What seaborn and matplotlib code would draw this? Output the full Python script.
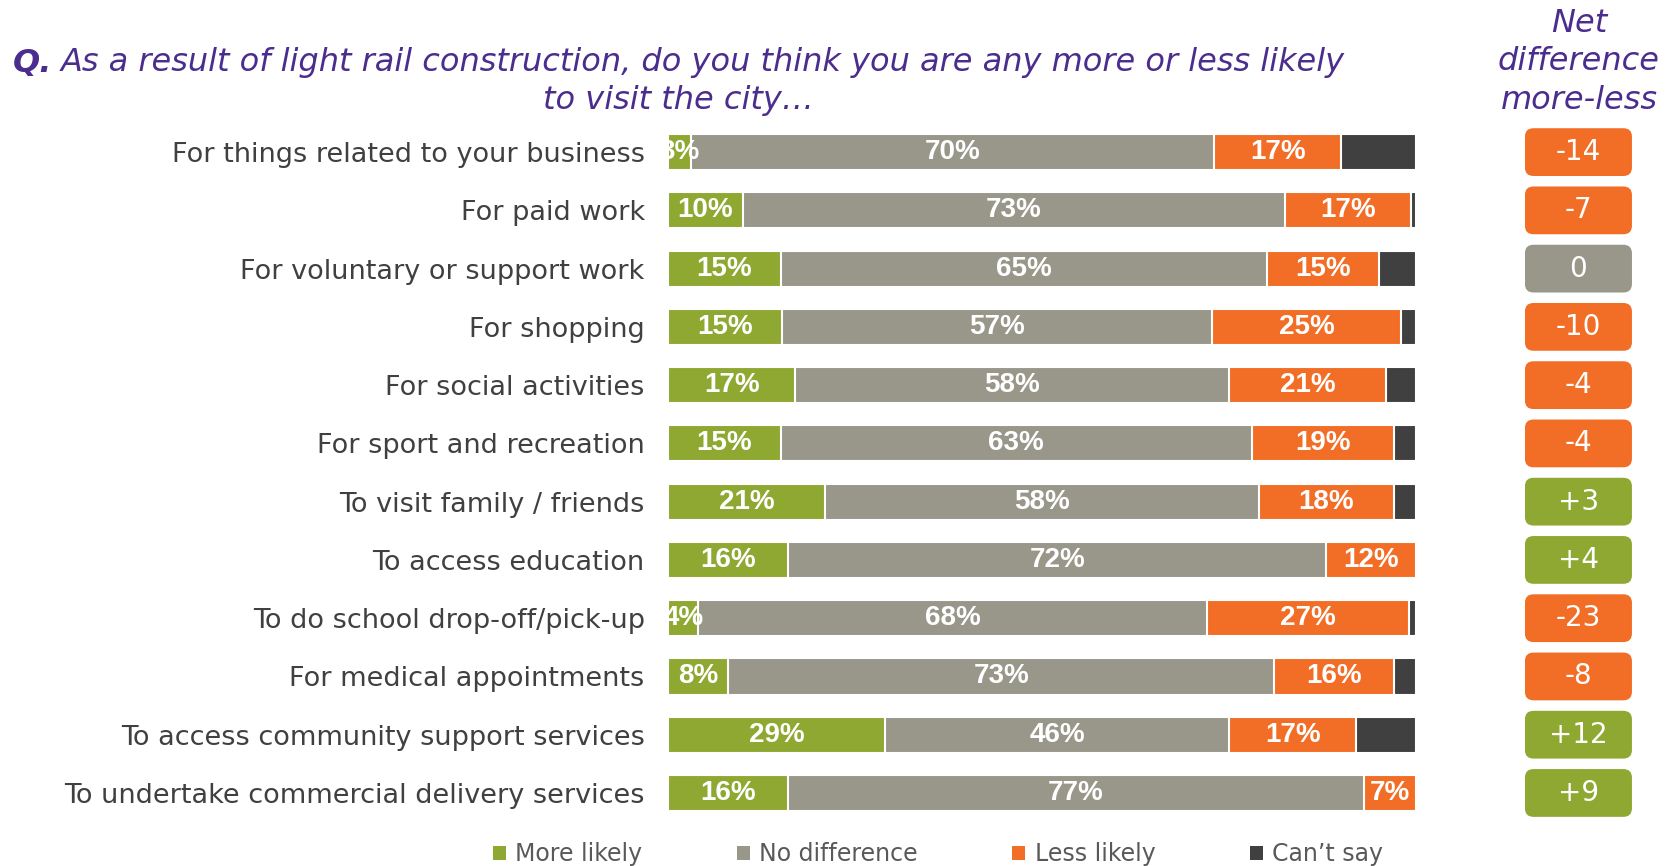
import pandas as pd
import matplotlib.pyplot as plt
import seaborn as sns
from matplotlib.patches import FancyBboxPatch, Patch

# Survey data: likelihood to visit the city during light rail construction
categories = [
    "For things related to your business",
    "For paid work",
    "For voluntary or support work",
    "For shopping",
    "For social activities",
    "For sport and recreation",
    "To visit family / friends",
    "To access education",
    "To do school drop-off/pick-up",
    "For medical appointments",
    "To access community support services",
    "To undertake commercial delivery services",
]
more_likely = [3, 10, 15, 15, 17, 15, 21, 16, 4, 8, 29, 16]
no_difference = [70, 73, 65, 57, 58, 63, 58, 72, 68, 73, 46, 77]
less_likely = [17, 17, 15, 25, 21, 19, 18, 12, 27, 16, 17, 7]
cant_say = [10, 0.7, 5, 2, 4, 3, 3, 0, 1, 3, 8, 0]
net_diff = [-14, -7, 0, -10, -4, -4, 3, 4, -23, -8, 12, 9]

series = ["More likely", "No difference", "Less likely", "Can\u2019t say"]
colors = ["#8FA832", "#99978A", "#F26E26", "#404040"]
purple = "#4B2D8E"
text_grey = "#404040"

sns.set_style("white")
plt.rcParams["font.family"] = ["DejaVu Sans"]

df = pd.DataFrame({
    "category": categories,
    "More likely": more_likely,
    "No difference": no_difference,
    "Less likely": less_likely,
    "Can\u2019t say": cant_say,
})
total = df[series].sum(axis=1)
shares = df[series].div(total, axis=0) * 100
cum = shares.cumsum(axis=1)
cum["category"] = categories

fig = plt.figure(figsize=(16.75, 8.66), dpi=100)
ax = fig.add_axes([0.399, 0.0507, 0.4465, 0.8073])
ax2 = fig.add_axes([0.9104, 0.0507, 0.0639, 0.8073])

# stacked bars: draw cumulative totals back to front
for name, col in zip(series[::-1], colors[::-1]):
    sns.barplot(data=cum, x=name, y="category", color=col, width=0.62,
                saturation=1, edgecolor="white", linewidth=1.5, orient="h", ax=ax)

# segment labels
for i in range(len(categories)):
    start = 0
    for name in series[:3]:
        w = shares.loc[i, name]
        ax.text(start + w / 2, i, f"{df.loc[i, name]:g}%", ha="center", va="center",
                color="white", fontsize=20, fontweight="bold",
                family=["Liberation Sans Narrow", "Liberation Sans"], clip_on=True)
        start += w

ax.set_xlim(0, 100)
ax.set_ylim(len(categories) - 0.5, -0.5)
ax.set_xlabel("")
ax.set_ylabel("")
ax.set_xticks([])
ax.tick_params(axis="y", length=0, pad=17, labelsize=19.5, labelcolor=text_grey)
sns.despine(ax=ax, left=True, bottom=True)

# net difference boxes
sign = ["neg" if v < 0 else ("pos" if v > 0 else "zero") for v in net_diff]
net_df = pd.DataFrame({"category": categories, "width": [1] * len(categories), "sign": sign})
sns.barplot(data=net_df, x="width", y="category", hue="sign",
            palette={"neg": colors[2], "zero": colors[1], "pos": colors[0]},
            width=0.82, saturation=1, dodge=False, legend=False, orient="h", ax=ax2)
for p in list(ax2.patches):
    x0, y0, w, h = p.get_x(), p.get_y(), p.get_width(), p.get_height()
    fc = p.get_facecolor()
    p.remove()
    if w == 0:
        continue
    ax2.add_patch(FancyBboxPatch((x0, y0), w, h, boxstyle="round,pad=0,rounding_size=0.08",
                                 mutation_aspect=1.84, facecolor=fc, edgecolor="none"))
for i, v in enumerate(net_diff):
    ax2.text(0.5, i, f"{v:+d}" if v != 0 else "0", ha="center", va="center",
             color="white", fontsize=20)
ax2.set_xlim(0, 1)
ax2.set_ylim(len(categories) - 0.5, -0.5)
ax2.axis("off")

# titles
q = fig.text(13 / 1675, 1 - 63 / 866, "Q.", ha="left", va="center", color=purple,
             fontsize=23, fontstyle="italic", fontweight="bold")
fig.canvas.draw()
bb = q.get_window_extent()
fig.text((bb.x1 + 8) / 1675, 1 - 63 / 866,
         "As a result of light rail construction, do you think you are any more or less likely",
         ha="left", va="center", color=purple, fontsize=23, fontstyle="italic")
fig.text(678 / 1675, 1 - 101 / 866, "to visit the city\u2026", ha="center", va="center",
         color=purple, fontsize=23, fontstyle="italic")
fig.text(1579 / 1675, 1 - 62 / 866, "Net\ndifference\nmore-less", ha="center", va="center",
         color=purple, fontsize=23, fontstyle="italic", linespacing=1.33)

handles = [Patch(facecolor=c, edgecolor="none", label=s) for s, c in zip(series, colors)]
fig.legend(handles=handles, loc="center", bbox_to_anchor=(938 / 1675, 1 - 854 / 866),
           ncol=4, frameon=False, handlelength=0.55, handleheight=0.55, handletextpad=0.4,
           columnspacing=4.0, fontsize=17, labelcolor="#595959")

fig.savefig("out.png", dpi=100)
